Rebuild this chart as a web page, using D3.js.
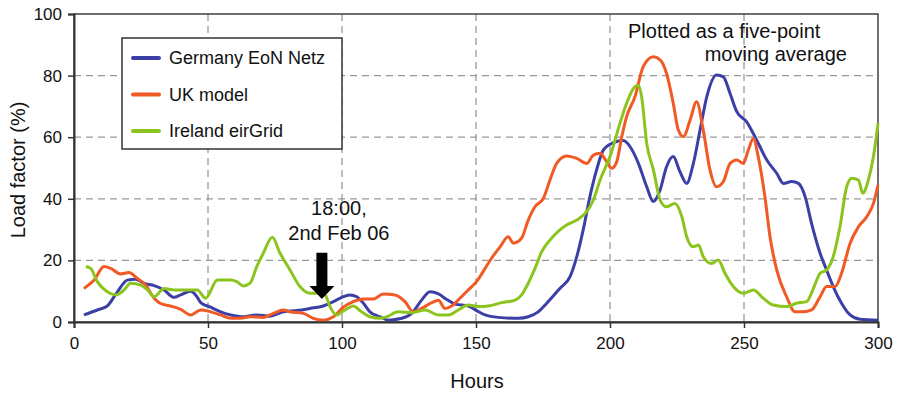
<!DOCTYPE html>
<html>
<head>
<meta charset="utf-8">
<script src="https://cdn.jsdelivr.net/npm/d3@7"></script>
<style>
  body { margin: 0; background: #fff; }
  svg text { font-family: "Liberation Sans", Arial, sans-serif; fill: #111; }
</style>
</head>
<body>
<div id="chart"></div>
<script>
/*
  Load factor line chart
*/

// [hour, load factor %]
var germany = [[3.7,2.3],[8.7,3.9],[12.4,5.2],[16.2,9.8],[19.9,13.6],[23,13.9],[26,12.6],[29.9,11.8],[33.6,10.4],[37.3,8],[39.8,8.8],[43.5,10],[45.4,8.8],[47.3,6.3],[51,4.8],[54.7,3.3],[58.5,2.3],[63.2,1.7],[68.2,2.3],[73,1.9],[78.1,3.3],[83.1,3.7],[88.1,4.4],[93,5.2],[96.8,6.6],[99.9,8],[103,8.8],[105.5,8.2],[108,6.1],[110.4,3.3],[114.2,1.7],[117.3,0.6],[122.3,1.2],[126,2.8],[129.7,7.1],[132.8,9.8],[136,9.1],[139.1,7.3],[142.2,5.8],[147.1,5.2],[150.2,3.7],[153.4,2.3],[158.3,1.5],[165.8,1.2],[169.5,1.7],[173.2,3.3],[176.4,6.1],[181.3,10.9],[185.1,14.7],[187.6,21.2],[190,29.9],[192.5,40.7],[195,49.4],[197.5,55.8],[201.2,58.2],[205,58.9],[207.5,56.9],[210.6,51.5],[213.7,43.9],[216.2,39.1],[218.7,42.9],[221.1,50.4],[223.6,53.7],[226,49],[228.6,45],[231.1,51.5],[233.6,62.3],[236.1,73.1],[239.8,80.2],[242.3,79.6],[244.8,74.2],[247.3,68.3],[251,65],[254.7,59.1],[258.5,52.6],[262.2,48.3],[264.7,45],[267.8,45.6],[270.3,45],[272.8,40.7],[275.2,32],[278.4,22.3],[280.8,16.9],[283.3,11.5],[286.4,6.1],[289.6,2.3],[293.3,0.9],[300,0.6]];

var ukModel = [[3.7,10.9],[7.5,13.6],[11.2,18],[13.7,17.4],[17.4,15.6],[20.5,16.1],[23.6,14.2],[26.7,12],[29.9,7.7],[32.3,6],[36,5.2],[39.8,4.1],[43.5,2.3],[47.3,3.9],[51,3.3],[54.7,2.3],[58.5,1.2],[61.9,1.2],[65.7,1.7],[70.6,1.5],[74.4,2.8],[78.1,3.9],[80.6,3.3],[85.6,2.8],[89.3,1.2],[93,0.6],[96.8,1.7],[100.5,4.8],[104.2,6.6],[108,7.5],[111.7,7.5],[115.4,9.1],[119.8,8.8],[123.5,6.6],[126.6,3.3],[129.7,4.4],[133.5,6.3],[136,7.1],[138.4,4.4],[140.9,5.2],[144,7.7],[147.1,10.4],[150.2,13.1],[153.4,17.4],[155.8,20.7],[159,24.4],[162,27.7],[163.9,25.6],[167,27.2],[169.5,33.1],[172,37.4],[175.1,40.1],[177.6,46.1],[180.1,51.5],[183.8,53.9],[187.6,53.1],[191.3,51.5],[193.8,54.2],[196.3,54.8],[198.8,52],[200.6,49.9],[202.5,52],[204.4,60.2],[206.2,66.7],[209.3,73.1],[212.4,82.9],[216.2,86.1],[218.7,85.1],[221.1,80.7],[223.6,71],[225.5,62.3],[227.4,60.2],[229.9,65.6],[232.3,71.5],[234.8,62.3],[237.3,49.4],[239.8,43.9],[242.3,45.6],[244.8,51.5],[247.3,52.6],[249.7,51.5],[251.6,55.8],[253.5,59.6],[255.3,53.7],[257.8,40.7],[259.7,27.7],[262.2,16.9],[265.9,8.2],[269,3.3],[272.1,3.3],[275.2,3.9],[278.4,8.2],[280.8,11.5],[284,11.5],[286.4,15.8],[289.6,25.6],[292.7,30.9],[295.8,34.2],[298.3,38.5],[300,44.5]];

var ireland = [[4.4,18],[6.2,17.4],[8.7,13.1],[12.4,9.8],[15.6,8.8],[18.7,10.4],[21.1,12.6],[24.9,12],[27.4,10.4],[29.9,8.2],[33.6,10.9],[37.3,10.4],[41,10.4],[46,10.4],[49.1,7.7],[53.5,13.6],[58.5,13.6],[60.7,13.1],[63.2,11.7],[65.7,12.6],[68.2,18],[70.6,22.3],[74,27.5],[76.9,22.3],[80.6,16.9],[84.3,11.5],[88.1,9.3],[91.2,9.3],[93.7,8.8],[95.5,5],[98,2.3],[101.1,3.9],[104.2,5.2],[107.3,3.3],[110.4,1.7],[114.2,1.2],[116.7,1.7],[121,3.3],[126,3],[131,3.9],[136,2.3],[139.7,2.3],[143.4,3.9],[147.1,5.5],[150.9,5],[154.6,5.2],[159.6,6.3],[164.6,7.1],[167,8.8],[169.5,12.6],[172,17.4],[174.5,22.8],[177.6,26.6],[181.3,29.9],[183.8,31.5],[187.6,33.1],[191.3,35.8],[193.8,39.6],[196.3,46.1],[200,53.7],[203.7,64.5],[206.2,71],[208.7,75.8],[210.6,76.9],[211.8,73.1],[213.7,58],[216.2,49.4],[218.7,39.6],[221.1,37.4],[224.2,38.5],[226.8,34.2],[228.6,27.7],[231.1,24.4],[233,25],[234.8,21.2],[237.9,19],[240.4,20.1],[242.9,15.8],[246,11.5],[249.7,9.3],[253.5,10.4],[257.2,7.7],[260.9,5.5],[265.9,5],[269.6,6.1],[273.4,6.6],[275.9,10.9],[278.4,15.8],[280.8,16.9],[283.3,21.2],[285.8,30.9],[288.3,43.9],[290.2,46.7],[292.7,46.1],[294.3,41.8],[296.4,46.1],[298.3,53.7],[300,64.5]];

var seriesNames = ["Germany EoN Netz", "UK model", "Ireland eirGrid"],
    seriesColors = ["#3b3fa6", "#f15a24", "#8cc41e"],
    xTicks = [0, 50, 100, 150, 200, 250, 300],
    yTicks = [0, 20, 40, 60, 80, 100];

// arrow marks hour 92.5, from 22.5% down to 7.5%
var arrowHour = 92.5, arrowTop = 22.5, arrowTip = 7.5;

var margin = {top: 14, right: 21, bottom: 72, left: 74},
    width = 899 - margin.left - margin.right,
    height = 394 - margin.top - margin.bottom;

var x = d3.scaleLinear().domain([0, 300]).range([0, width]),
    y = d3.scaleLinear().domain([0, 100]).range([height, 0]);

var svg = d3.select("#chart").append("svg")
    .attr("width", width + margin.left + margin.right)
    .attr("height", height + margin.top + margin.bottom)
  .append("g")
    .attr("transform", "translate(" + margin.left + "," + margin.top + ")");

// dashed grid
svg.append("g").selectAll("line")
    .data(xTicks.slice(1, -1))
  .enter().append("line")
    .attr("x1", function(d) { return x(d); })
    .attr("x2", function(d) { return x(d); })
    .attr("y1", 0).attr("y2", height)
    .attr("stroke", "#9a9a9a").attr("stroke-width", 1.3)
    .attr("stroke-dasharray", "7,5");

svg.append("g").selectAll("line")
    .data(yTicks.slice(1, -1))
  .enter().append("line")
    .attr("x1", 0).attr("x2", width)
    .attr("y1", function(d) { return y(d); })
    .attr("y2", function(d) { return y(d); })
    .attr("stroke", "#9a9a9a").attr("stroke-width", 1.3)
    .attr("stroke-dasharray", "7,5");

// frame
svg.append("rect")
    .attr("width", width).attr("height", height)
    .attr("fill", "none").attr("stroke", "#222").attr("stroke-width", 1.3);

// the lines
var line = d3.line()
    .x(function(d) { return x(d[0]); })
    .y(function(d) { return y(d[1]); })
    .curve(d3.curveMonotoneX);

[germany, ukModel, ireland].forEach(function(data, i) {
  svg.append("path")
    .datum(data)
    .attr("fill", "none")
    .attr("stroke", seriesColors[i])
    .attr("stroke-width", 3)
    .attr("stroke-linejoin", "round")
    .attr("d", line);
});

// axes
var xAxis = svg.append("g")
    .attr("transform", "translate(0," + height + ")")
    .call(d3.axisBottom(x).tickValues(xTicks).tickSize(6).tickPadding(9));

var yAxis = svg.append("g")
    .call(d3.axisLeft(y).tickValues(yTicks).tickSize(6).tickPadding(6));

[xAxis, yAxis].forEach(function(a) {
  a.select(".domain").attr("stroke", "#333").attr("stroke-width", 2);
  a.selectAll(".tick line").attr("stroke", "#333").attr("stroke-width", 1.5);
  a.selectAll("text")
    .style("font-family", "'Liberation Sans', Arial, sans-serif")
    .style("font-size", "17px")
    .attr("fill", "#111");
});

// axis labels
svg.append("text")
    .attr("x", width / 2 + 1)
    .attr("y", height + 66)
    .style("text-anchor", "middle")
    .style("font-size", "20px")
    .text("Hours");

svg.append("text")
    .attr("transform", "rotate(-90)")
    .attr("x", -height / 2 - 2)
    .attr("y", -margin.left + 25)
    .style("text-anchor", "middle")
    .style("font-size", "20px")
    .text("Load factor (%)");

// legend
var legend = svg.append("g").attr("transform", "translate(48,24)");
legend.append("rect")
    .attr("width", 220).attr("height", 111)
    .attr("fill", "#fff").attr("stroke", "#333").attr("stroke-width", 1.5);

seriesNames.forEach(function(name, i) {
  var ly = 20 + i * 36.5;
  legend.append("line")
    .attr("x1", 11).attr("x2", 37)
    .attr("y1", ly).attr("y2", ly)
    .attr("stroke", seriesColors[i]).attr("stroke-width", 4)
    .attr("stroke-linecap", "round");
  legend.append("text")
    .attr("x", 47).attr("y", ly)
    .attr("dy", "0.35em")
    .style("font-size", "18px")
    .text(name);
});

// notes
svg.append("text")
    .attr("x", 554).attr("y", 24)
    .style("font-size", "20px")
    .text("Plotted as a five-point");
svg.append("text")
    .attr("x", 773).attr("y", 47)
    .style("text-anchor", "end")
    .style("font-size", "20px")
    .text("moving average");

svg.append("text")
    .attr("x", x(arrowHour) + 17).attr("y", 201)
    .style("text-anchor", "middle")
    .style("font-size", "20px")
    .text("18:00,");
svg.append("text")
    .attr("x", x(arrowHour) + 17).attr("y", 226)
    .style("text-anchor", "middle")
    .style("font-size", "20px")
    .text("2nd Feb 06");

// black arrow
var ax = x(arrowHour), aTop = y(arrowTop), aTip = y(arrowTip), headH = 13;
svg.append("path")
    .attr("d", "M" + (ax - 5.5) + "," + aTop +
               "L" + (ax + 5.5) + "," + aTop +
               "L" + (ax + 5.5) + "," + (aTip - headH) +
               "L" + (ax + 12.5) + "," + (aTip - headH) +
               "L" + ax + "," + aTip +
               "L" + (ax - 12.5) + "," + (aTip - headH) +
               "L" + (ax - 5.5) + "," + (aTip - headH) + "Z")
    .attr("fill", "#000");
</script>
</body>
</html>
